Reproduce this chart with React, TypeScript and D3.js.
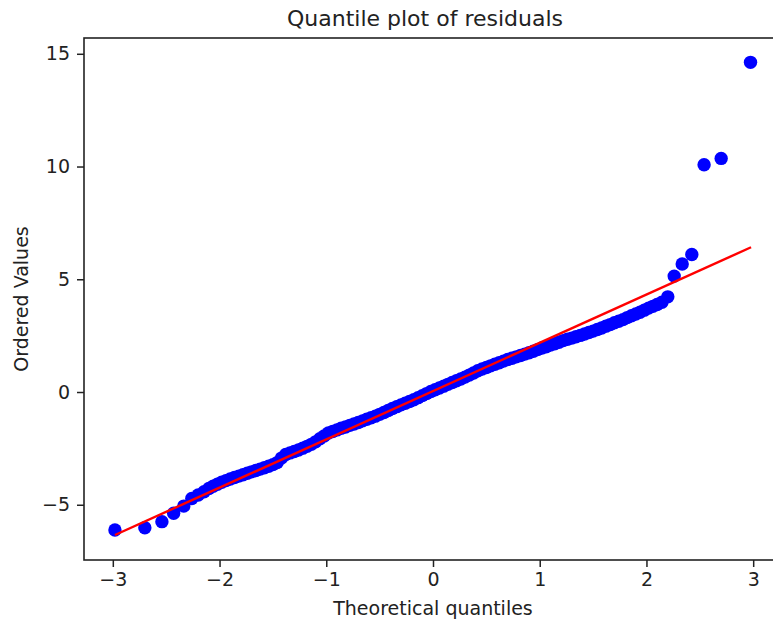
import React, { useEffect, useRef } from 'react';
import * as d3 from 'd3';

// theoretical quantiles (x) and ordered residuals (y)
const theoreticalQuantiles = [
  -2.98, -2.70, -2.54, -2.43, -2.335, -2.26, -2.20, -2.145,
  -2.10, -2.06, -2.02, -1.98, -1.94, -1.90, -1.86, -1.82, -1.78, -1.74,
  -1.70, -1.66, -1.62, -1.58, -1.54, -1.50, -1.46, -1.42, -1.38, -1.34,
  -1.30, -1.26, -1.22, -1.18, -1.14, -1.10, -1.06, -1.02, -0.98, -0.94,
  -0.90, -0.86, -0.82, -0.78, -0.74, -0.70, -0.66, -0.62, -0.58, -0.54,
  -0.50, -0.46, -0.42, -0.38, -0.34, -0.30, -0.26, -0.22, -0.18, -0.14,
  -0.10, -0.06, -0.02, 0.02, 0.06, 0.10, 0.14, 0.18, 0.22, 0.26,
  0.30, 0.34, 0.38, 0.42, 0.46, 0.50, 0.54, 0.58, 0.62, 0.66,
  0.70, 0.74, 0.78, 0.82, 0.86, 0.90, 0.94, 0.98, 1.02, 1.06,
  1.10, 1.14, 1.18, 1.22, 1.26, 1.30, 1.34, 1.38, 1.42, 1.46,
  1.50, 1.54, 1.58, 1.62, 1.66, 1.70, 1.74, 1.78, 1.82, 1.86,
  1.90, 1.94, 1.98, 2.02, 2.06, 2.10,
  2.145, 2.20, 2.26, 2.335, 2.425, 2.54, 2.70, 2.975,
];
const orderedValues = [
  -6.12, -6.02, -5.75, -5.38, -5.06, -4.72, -4.57, -4.42,
  -4.28, -4.18, -4.09, -4.00, -3.93, -3.86, -3.79, -3.73, -3.67, -3.60,
  -3.54, -3.48, -3.42, -3.36, -3.29, -3.22, -3.13, -2.93, -2.77, -2.70,
  -2.64, -2.57, -2.49, -2.41, -2.32, -2.21, -2.07, -1.95, -1.82, -1.75,
  -1.68, -1.61, -1.55, -1.48, -1.42, -1.35, -1.28, -1.21, -1.14, -1.07,
  -0.99, -0.91, -0.82, -0.73, -0.65, -0.57, -0.50, -0.42, -0.34, -0.25,
  -0.16, -0.07, 0.02, 0.10, 0.18, 0.26, 0.34, 0.42, 0.50, 0.58,
  0.66, 0.75, 0.84, 0.94, 1.02, 1.09, 1.16, 1.23, 1.30, 1.37,
  1.44, 1.50, 1.56, 1.62, 1.68, 1.74, 1.81, 1.88, 1.95, 2.01,
  2.08, 2.14, 2.21, 2.28, 2.34, 2.39, 2.45, 2.51, 2.57, 2.64,
  2.70, 2.77, 2.84, 2.92, 2.99, 3.07, 3.14, 3.21, 3.30, 3.38,
  3.46, 3.54, 3.63, 3.72, 3.80, 3.88,
  3.98, 4.22, 5.14, 5.68, 6.10, 10.08, 10.36, 14.62,
];

// least squares fit line endpoints
const fitX = [-2.98, 2.98];
const fitY = [-6.34, 6.42];

const xTicks = [-3, -2, -1, 0, 1, 2, 3];
const yTicks = [-5, 0, 5, 10, 15];

const App = () => {
  const ref = useRef<SVGSVGElement>(null);

  useEffect(() => {
    const width = 773;
    const height = 622;
    const margin = { top: 38, left: 84, bottom: 62, right: -9 };
    const innerWidth = width - margin.left - margin.right;
    const innerHeight = height - margin.top - margin.bottom;
    const font = 'DejaVu Sans, sans-serif';

    const svg = d3.select(ref.current)
      .attr('width', width)
      .attr('height', height);

    svg.selectAll('*').remove();

    const g = svg.append('g')
      .attr('transform', `translate(${margin.left},${margin.top})`);

    const x = d3.scaleLinear().domain([-3.27, 3.27]).range([0, innerWidth]);
    const y = d3.scaleLinear().domain([-7.45, 15.7]).range([innerHeight, 0]);

    g.append('clipPath').attr('id', 'plot-clip')
      .append('rect').attr('width', innerWidth).attr('height', innerHeight);

    const plot = g.append('g').attr('clip-path', 'url(#plot-clip)');

    const pts = theoreticalQuantiles.map((q, i) => ({ q, v: orderedValues[i] }));
    plot.selectAll('.dot')
      .data(pts)
      .enter().append('circle')
      .attr('class', 'dot')
      .attr('cx', d => x(d.q))
      .attr('cy', d => y(d.v))
      .attr('r', 6.7)
      .attr('fill', '#0000ff');

    const line = d3.line<number>()
      .x(d => x(d))
      .y((d, i) => y(fitY[i]));

    plot.append('path')
      .datum(fitX)
      .attr('fill', 'none')
      .attr('stroke', '#ff0000')
      .attr('stroke-width', 2.4)
      .attr('d', line);

    const fmt = (d: d3.NumberValue) => d3.format('d')(d as number);

    const xAxis = g.append('g')
      .attr('transform', `translate(0,${innerHeight})`)
      .call(d3.axisBottom(x).tickValues(xTicks).tickSize(7).tickPadding(6).tickFormat(fmt));
    const yAxis = g.append('g')
      .call(d3.axisLeft(y).tickValues(yTicks).tickSize(7).tickPadding(7).tickFormat(fmt));

    [xAxis, yAxis].forEach(a => {
      a.select('.domain').remove();
      a.selectAll('line').attr('stroke', '#222').attr('stroke-width', 1.5);
      a.selectAll('text')
        .attr('fill', '#222')
        .style('font-family', font)
        .style('font-size', '19px');
    });

    g.append('rect')
      .attr('width', innerWidth)
      .attr('height', innerHeight)
      .attr('fill', 'none')
      .attr('stroke', '#222')
      .attr('stroke-width', 1.6);

    svg.append('text')
      .attr('x', 425)
      .attr('y', 26)
      .attr('text-anchor', 'middle')
      .attr('fill', '#222')
      .style('font-family', font)
      .style('font-size', '22px')
      .text('Quantile plot of residuals');

    svg.append('text')
      .attr('x', margin.left + innerWidth / 2)
      .attr('y', 615)
      .attr('text-anchor', 'middle')
      .attr('fill', '#222')
      .style('font-family', font)
      .style('font-size', '19px')
      .text('Theoretical quantiles');

    svg.append('text')
      .attr('transform', `translate(28,${margin.top + innerHeight / 2}) rotate(-90)`)
      .attr('text-anchor', 'middle')
      .attr('fill', '#222')
      .style('font-family', font)
      .style('font-size', '19px')
      .text('Ordered Values');
  }, []);

  return <svg ref={ref} style={{ position: 'absolute', left: 0, top: 0 }}></svg>;
};

export default App;
